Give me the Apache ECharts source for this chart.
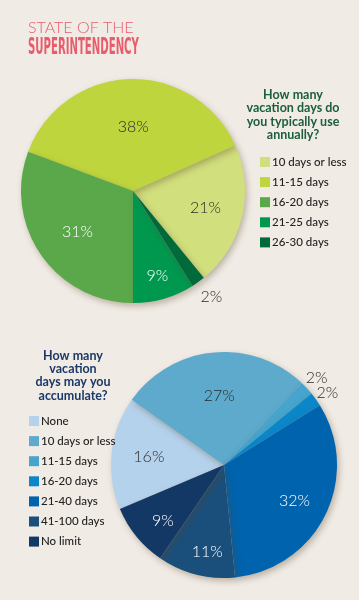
<!DOCTYPE html>
<html><head><meta charset="utf-8">
<script src="https://cdn.jsdelivr.net/npm/echarts@6/dist/echarts.min.js"></script>
<style>html,body{margin:0;padding:0;background:#f0ebe5;}#c{width:359px;height:600px;}</style>
</head><body><div id="c"></div>
<script>
// ---- data ----
const useCategories = ['10 days or less','11-15 days','16-20 days','21-25 days','26-30 days'];
const useValues = [21, 38, 31, 9, 2];
const accCategories = ['None','10 days or less','11-15 days','16-20 days','21-40 days','41-100 days','No limit'];
const accValues = [16, 27, 2, 2, 32, 11, 9];
const useQuestion = 'How many\nvacation days do\nyou typically use\nannually?';
const accQuestion = 'How many\nvacation\ndays may you\naccumulate?';

// ---- styles ----
const useColors = ['#d2df7d','#bfd53d','#5ba84b','#00984f','#006a3b'];
const accColors = ['#b5d2ec','#5eaacc','#47a4cd','#0a87c9','#0063ae','#1a4f7c','#143865'];
const useLabelColors = ['#2a2a2a','#2a2a2a','#ffffff','#ffffff','#2a2a2a'];
const accLabelColors = ['#2a2a2a','#2a2a2a','#2a2a2a','#2a2a2a','#ffffff','#ffffff','#ffffff'];
const useLabelShift = [[15,3],[2,-5],[-7,7],[8,28],[44,58]];
const accLabelShift = [[-16,-2],[1,-10],[49,-47],[55,-37],[17,10],[-2,29],[-15,18]];

const labelFont = {fontFamily:'Lato', fontWeight:300, fontSize:16};
const shadow = {shadowBlur:6, shadowOffsetX:2, shadowOffsetY:3, shadowColor:'rgba(90,70,40,0.35)'};
const legendText = {fontFamily:'Lato', fontWeight:500, fontSize:11.5, color:'#222', lineHeight:10, padding:[0,0,0,-3]};

function pieData(cats, vals, colors, lcolors){
  return cats.map((c,i)=>({name:c, value:vals[i], itemStyle:Object.assign({color:colors[i]}, shadow), label:{color:lcolors[i]}}));
}
function legendData(cats, colors){
  return cats.map((c,i)=>({name:c, itemStyle:{color:colors[i]}}));
}

const chart = echarts.init(document.getElementById('c'), null, {renderer:'canvas'});
chart.setOption({
  backgroundColor:'#f0ebe5',
  animation:false,
  graphic:[
    {type:'text', left:28, top:20, style:{text:'STATE OF THE', fill:'#e95c6c', font:'300 16px "Lato"'}},
    {type:'text', x:28, y:37, scaleX:0.49, style:{text:'SUPERINTENDENCY', fill:'#e95c6c', font:'bold 23px "Liberation Sans Narrow", "DejaVu Sans Condensed"'}},
    {type:'text', x:293, y:88, style:{text:useQuestion, fill:'#1b5e3b', align:'center', font:'bold 12.5px "Lato"', lineHeight:13.5}},
    {type:'text', x:73, y:349, style:{text:accQuestion, fill:'#1b3868', align:'center', font:'bold 12.5px "Lato"', lineHeight:13.3}}
  ],
  legend:[
    {data:legendData(useCategories,useColors), orient:'vertical', left:260, top:156, padding:0, icon:'rect', itemWidth:10, itemHeight:10, itemGap:8.1,
     selectedMode:false, textStyle:legendText},
    {data:legendData(accCategories,accColors), orient:'vertical', left:29, top:415, padding:0, icon:'rect', itemWidth:10, itemHeight:10, itemGap:8.1,
     selectedMode:false, textStyle:legendText}
  ],
  series:[
    {type:'pie', center:[133,191], radius:[0,112], startAngle:-50.8, clockwise:false, silent:true,
     label:Object.assign({show:true, position:'inside', formatter:'{c}%'}, labelFont), labelLine:{show:false},
     labelLayout:function(p){const s=useLabelShift[p.dataIndex]; return {dx:s[0], dy:s[1]};},
     data:pieData(useCategories,useValues,useColors,useLabelColors)},
    {type:'pie', center:[224,465], radius:[0,113], startAngle:202.9, clockwise:true, silent:true,
     label:Object.assign({show:true, position:'inside', formatter:'{c}%'}, labelFont), labelLine:{show:false},
     labelLayout:function(p){const s=accLabelShift[p.dataIndex]; return {dx:s[0], dy:s[1]};},
     data:pieData(accCategories,accValues,accColors,accLabelColors)}
  ]
});
</script></body></html>
